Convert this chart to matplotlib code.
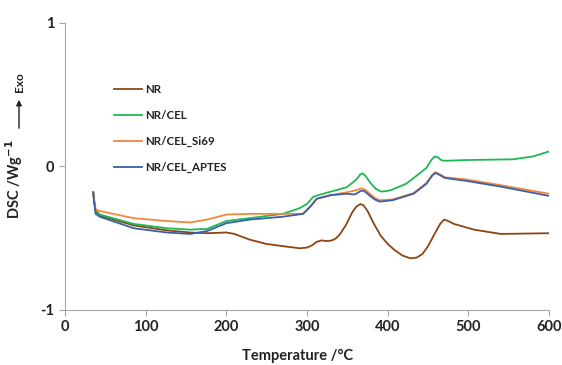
import matplotlib.pyplot as plt
from matplotlib.patches import FancyArrowPatch

plt.rcParams['font.family'] = ['Lato', 'DejaVu Sans']
plt.rcParams['axes.unicode_minus'] = False

# DSC traces
t_nr = [35, 36, 38, 45, 85, 126, 155, 176, 200, 210, 229, 250, 270, 291, 300, 306, 312, 318, 325,
        331, 336, 341, 348, 356, 361, 366, 370, 375, 382, 391, 400, 408, 418, 428, 436, 443, 450,
        458, 465, 470, 475, 482, 507, 540, 600]
dsc_nr = [-0.18, -0.24, -0.31, -0.345, -0.41, -0.445, -0.46, -0.465, -0.46, -0.47, -0.51, -0.54,
          -0.555, -0.57, -0.565, -0.55, -0.525, -0.515, -0.52, -0.515, -0.50, -0.47, -0.41, -0.32,
          -0.28, -0.262, -0.27, -0.31, -0.39, -0.48, -0.54, -0.58, -0.62, -0.64, -0.635, -0.61,
          -0.555, -0.47, -0.40, -0.37, -0.38, -0.40, -0.44, -0.47, -0.465]

t_cel = [35, 36, 38, 43, 85, 126, 155, 176, 200, 229, 270, 291, 300, 308, 320, 349, 357, 362, 366,
         369, 373, 378, 385, 392, 400, 406, 423, 439, 448, 454, 458, 462, 467, 472, 497, 555, 580,
         600]
dsc_cel = [-0.18, -0.24, -0.32, -0.335, -0.40, -0.43, -0.44, -0.435, -0.38, -0.36, -0.33, -0.29,
           -0.26, -0.21, -0.19, -0.145, -0.11, -0.085, -0.055, -0.048, -0.07, -0.11, -0.155,
           -0.175, -0.17, -0.16, -0.12, -0.05, -0.01, 0.045, 0.07, 0.065, 0.042, 0.04, 0.045,
           0.05, 0.07, 0.105]

t_si = [35, 36, 38, 43, 85, 126, 155, 176, 200, 229, 270, 295, 304, 312, 329, 349, 361, 366, 369,
        373, 378, 384, 390, 406, 432, 448, 455, 459, 463, 471, 497, 540, 600]
dsc_si = [-0.18, -0.23, -0.30, -0.31, -0.36, -0.38, -0.39, -0.37, -0.335, -0.33, -0.33, -0.33,
          -0.28, -0.225, -0.20, -0.18, -0.165, -0.155, -0.153, -0.165, -0.19, -0.22, -0.235,
          -0.23, -0.185, -0.115, -0.06, -0.04, -0.05, -0.075, -0.09, -0.13, -0.19]

t_ap = [35, 36, 38, 43, 85, 126, 155, 176, 200, 229, 270, 295, 304, 312, 329, 349, 358, 361, 366,
        369, 373, 378, 384, 390, 406, 432, 448, 455, 459, 463, 471, 497, 540, 600]
dsc_ap = [-0.18, -0.24, -0.33, -0.35, -0.43, -0.46, -0.47, -0.45, -0.395, -0.37, -0.35, -0.33,
          -0.28, -0.225, -0.20, -0.19, -0.195, -0.19, -0.172, -0.167, -0.18, -0.205, -0.23,
          -0.245, -0.235, -0.19, -0.12, -0.065, -0.045, -0.055, -0.08, -0.10, -0.14, -0.205]

series = [
    ('NR', t_nr, dsc_nr, '#8B4513'),
    ('NR/CEL', t_cel, dsc_cel, '#1DB954'),
    ('NR/CEL_Si69', t_si, dsc_si, '#F4863B'),
    ('NR/CEL_APTES', t_ap, dsc_ap, '#3A5FA8'),
]

fig = plt.figure(figsize=(5.62, 3.65), dpi=100)
ax = fig.add_axes([0.1157, 0.1507, 0.8613, 0.7863])

for name, t, y, c in series:
    ax.plot(t, y, color=c, linewidth=1.3, label=name)

ax.set_xlim(0, 600)
ax.set_ylim(-1, 1)
ax.set_xticks([0, 100, 200, 300, 400, 500, 600])
ax.set_yticks([-1, 0, 1])

for side in ['top', 'right']:
    ax.spines[side].set_visible(False)
for side in ['left', 'bottom']:
    ax.spines[side].set_color('#a6a6a6')
ax.tick_params(colors='#a6a6a6', labelcolor='#222222', labelsize=10.5, length=4)
for lab in ax.get_xticklabels() + ax.get_yticklabels():
    lab.set_fontweight('bold')

ax.set_xlabel('Temperature /°C', fontsize=10.5, fontweight='bold', color='#222222')
ax.xaxis.set_label_coords(0.48, -0.135)
ax.set_ylabel('DSC /Wg$^{\\mathbf{-1}}$', fontsize=10.5, fontweight='bold', color='#222222')
ax.yaxis.set_label_coords(-0.082, 0.455)

# Exo arrow above the y label
fig.patches.append(FancyArrowPatch(
    (19 / 562, 1 - 131 / 365), (19 / 562, 1 - 97 / 365), transform=fig.transFigure,
    arrowstyle='-|>', mutation_scale=8, color='#222222', linewidth=1))
fig.text(19 / 562, 1 - 92 / 365, 'Exo', rotation=90, fontsize=8.5, fontweight='bold',
         color='#222222', ha='center', va='bottom')

leg = ax.legend(loc='upper left', bbox_to_anchor=(0.08, 0.825), frameon=False, fontsize=8.3,
                handlelength=2.4, labelspacing=1.3, handletextpad=0.3)
for txt in leg.get_texts():
    txt.set_fontweight('bold')
    txt.set_color('#222222')

fig.savefig('out.png', dpi=100)
